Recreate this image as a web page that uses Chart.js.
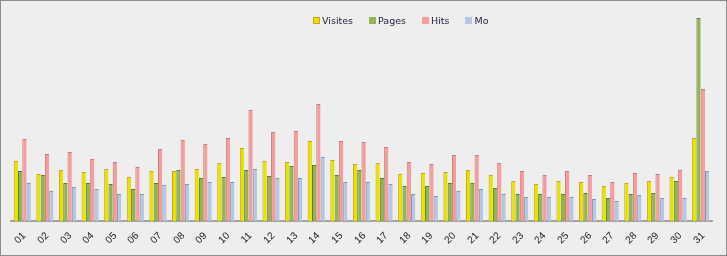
<!DOCTYPE html>
<html lang="fr">
<head>
  <meta charset="UTF-8">
  <title>Statistiques du mois</title>
  <script src="https://cdn.jsdelivr.net/npm/chart.js"></script>
  <style>
    body { margin: 0; background: #ffffff; }
    #frame {
      position: relative;
      width: 725px;
      height: 254px;
      border: 1px solid #8c8c8c;
      background: #eeeeee;
    }
    #legend {
      position: absolute;
      top: 14px;
      left: 312px;
      display: flex;
      gap: 16px;
      font: 9.5px "DejaVu Sans", sans-serif;
      color: #1f1f3a;
    }
    #legend span.item { display: flex; align-items: center; }
    #legend i {
      display: inline-block;
      width: 7px;
      height: 7px;
      margin-right: 2px;
      box-sizing: border-box;
    }
    .day {
      position: absolute;
      font: 10px "Liberation Sans", Arial, sans-serif;
      line-height: 1;
      white-space: nowrap;
      color: #222222;
      transform-origin: 0 0;
      transform: rotate(-45deg) translate(-100%, -50%);
    }
  </style>
</head>
<body>
  <div id="frame">
    <canvas id="statsChart" width="725" height="254"></canvas>
    <div id="legend"></div>
  </div>

  <script>
    // Jours du mois
    const days = ['01','02','03','04','05','06','07','08','09','10','11','12','13','14','15','16',
                  '17','18','19','20','21','22','23','24','25','26','27','28','29','30','31'];

    // Séries (valeurs relatives)
    const visites = [60,47,51,49,52,44,50,50,52,58,73,60,59,80,61,57,58,47,48,49,51,46,40,37,40,39,35,38,40,44,83];
    const pages   = [50,46,38,38,37,32,38,51,43,44,51,45,55,56,46,51,43,35,35,38,38,33,27,27,27,28,23,27,28,40,203];
    const hits    = [82,67,69,62,59,54,72,81,77,83,111,89,90,117,80,79,74,59,57,66,66,58,50,46,50,46,39,48,47,51,132];
    const mo      = [38,30,34,32,27,27,36,37,39,39,52,43,43,64,39,39,37,27,25,30,32,27,24,24,24,22,20,26,23,23,50];

    const seriesNames = ['Visites', 'Pages', 'Hits', 'Mo'];
    const fills   = ['#e4e400', '#93b455', '#f59c9c', '#b5c8e2'];
    const borders = ['#d4a017', '#5e7c32', '#c97b7b', '#8398b4'];

    const datasets = [visites, pages, hits, mo].map((values, i) => ({
      label: seriesNames[i],
      data: values,
      backgroundColor: fills[i],
      borderColor: borders[i],
      borderWidth: { left: 1, top: 1, right: 0, bottom: 0 },
      borderSkipped: false,
      categoryPercentage: 0.76,
      barPercentage: 1.0
    }));

    // Légende HTML (texte réel)
    const frame = document.getElementById('frame');
    const legendEl = document.getElementById('legend');
    seriesNames.forEach((name, i) => {
      const item = document.createElement('span');
      item.className = 'item';
      const box = document.createElement('i');
      box.style.background = fills[i];
      if (i === 0) box.style.border = '1px solid ' + borders[i];
      item.appendChild(box);
      item.appendChild(document.createTextNode(name));
      legendEl.appendChild(item);
    });

    const chart = new Chart(document.getElementById('statsChart'), {
      type: 'bar',
      data: { labels: days, datasets: datasets },
      options: {
        responsive: false,
        animation: false,
        layout: { padding: { left: 10, right: 14, top: 9, bottom: 34 } },
        plugins: {
          legend: { display: false },
          tooltip: { enabled: false }
        },
        scales: {
          x: {
            grid: { display: false, drawTicks: false },
            border: { display: true, color: '#a3a3a3', width: 2 },
            ticks: { display: false, autoSkip: false }
          },
          y: {
            display: false,
            min: 0,
            max: 211
          }
        }
      }
    });

    // Étiquettes des jours inclinées à 45°, placées sur les ticks de l'axe x
    const xScale = chart.scales.x;
    days.forEach((day, i) => {
      const lbl = document.createElement('span');
      lbl.className = 'day';
      lbl.textContent = day;
      lbl.style.left = (xScale.getPixelForTick(i) + 2) + 'px';
      lbl.style.top = (xScale.top + 13) + 'px';
      frame.appendChild(lbl);
    });
  </script>
</body>
</html>
